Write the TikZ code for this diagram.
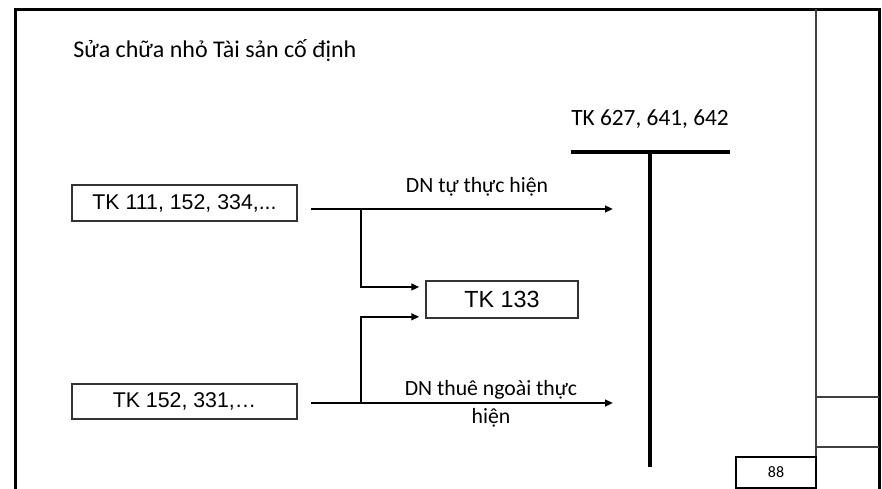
\documentclass[tikz,border=0pt]{standalone}
\usepackage{fontspec}
\setmainfont{Carlito}
\newfontfamily\arialfont{Liberation Sans}
\usetikzlibrary{arrows.meta,positioning}

\begin{document}
\begin{tikzpicture}[
    x=0.75pt, y=-0.75pt,
    >={Triangle[length=6pt,width=5pt]},
    acct/.style={draw=black!80, line width=1pt, inner sep=0pt, font=\arialfont\fontsize{16}{19}\selectfont},
    flow/.style={line width=1.9pt},
    tline/.style={line width=2.4pt},
    frame/.style={line width=2.25pt},
    rule/.style={draw=black!75, line width=0.8pt},
    lbl/.style={inner sep=0pt, font=\fontsize{16.3}{21}\selectfont, align=center}
]
    \useasboundingbox (0,0) rectangle (882,489);

    \draw[frame] (15,489) -- (15,9) -- (879,9) -- (879,489);
    \draw[rule] (816,9) -- (816,489);
    \foreach \y in {397,447} {
        \draw[rule] (816,\y) -- (879,\y);
    }
    \node[draw, line width=1.5pt, minimum width=60pt, minimum height=23.25pt, inner sep=0pt,
          font=\fontsize{12}{14}\selectfont] (page) at (776,472.5) {88};

    \node[anchor=base west, inner sep=0pt, font=\fontsize{18}{22}\selectfont] (title) at (73,57) {Sửa chữa nhỏ Tài sản cố định};

    \node[acct, minimum width=168.75pt, minimum height=27pt] (tk111) at (184.5,203) {TK 111, 152, 334,...};
    \node[acct, minimum width=168.75pt, minimum height=26.25pt] (tk152) at (184.5,401.5) {TK 152, 331,…};
    \node[acct, minimum width=114pt, minimum height=27.75pt, font=\arialfont\fontsize{17.5}{21}\selectfont] (tk133) at (502,299.5) {TK 133};

    \node[anchor=base, inner sep=0pt, font=\fontsize{17.5}{21}\selectfont] (tkcost) at (650,125) {TK 627, 641, 642};
    \coordinate (tl) at (571,152);
    \coordinate (tr) at (730,152);
    \coordinate (tm) at (650,152);
    \coordinate (tb) at (650,467);
    \draw[tline] (tl) -- (tr);
    \draw[tline] (tm) -- (tb);

    \coordinate (s1) at (311,209);
    \coordinate (j1) at (361,209);
    \coordinate (e1) at (613,209);
    \coordinate (s2) at (311,403);
    \coordinate (j2) at (361,403);
    \coordinate (e2) at (613,403);

    \draw[flow,->] (s1) -- (e1);
    \draw[flow,->,shorten >=4.5pt] (j1) |- ([yshift=9.4pt]tk133.west);
    \draw[flow,->] (s2) -- (e2);
    \draw[flow,->,shorten >=4.5pt] (j2) |- ([yshift=-13pt]tk133.west);

    \node[lbl, anchor=base] (lself) at (477,192) {DN tự thực hiện};
    \node[lbl, anchor=base] (lout) at (491,423) {DN thuê ngoài thực\\hiện};
\end{tikzpicture}
\end{document}
